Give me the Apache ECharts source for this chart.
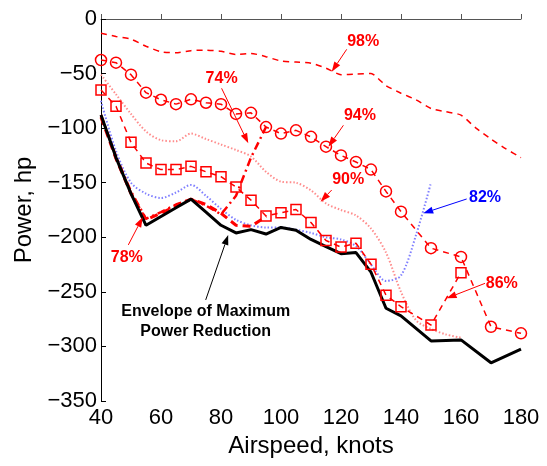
<!DOCTYPE html>
<html><head><meta charset="utf-8">
<script src="https://cdn.jsdelivr.net/npm/echarts@6/dist/echarts.min.js"></script>
<style>html,body{margin:0;padding:0;background:#fff}#c{width:547px;height:466px}</style>
</head><body><div id="c"></div>
<script>
// ---- data (airspeed in knots, power in hp) ----
const speeds98 = [40,45,50,55,60,65,70,75,80,85,90,95,100,105,110,115,120,125,130,135,140,145,150,155,160,165,170,175,180];
const power98  = [-13,-16,-18.5,-25,-30,-31,-29,-28.5,-29.5,-32.5,-31.5,-34.5,-38.5,-39.5,-40.5,-45,-51,-50.5,-50,-61,-68,-74,-82,-85,-88,-100,-110,-119,-127];

const speeds94 = [40,45,50,55,60,65,70,75,80,85,90,95,100,105,110,115,120,125,130,135,140,150,160,170,180];
const power94  = [-37.6,-40,-51,-67.5,-74,-78,-73.6,-76.7,-78,-87,-86,-99,-105,-102,-108,-117,-125,-131,-138,-158,-176.5,-210,-218,-282,-288];

const speeds90 = [40,45,50,55,60,65,70,75,80,85,90,95,100,105,110,115,120,125,130,135,140,145,150,155,160];
const power90  = [-51,-69,-87,-103,-111,-112,-105,-110,-115,-120,-126,-140,-149,-150,-157,-169,-175,-180,-192,-214,-250,-276,-284,-289,-292];

const speeds86 = [40,45,50,55,60,65,70,75,80,85,90,95,100,105,110,115,120,125,130,135,140,150,160];
const power86  = [-65,-80,-113,-132,-138,-138,-135,-140,-144.5,-154,-166,-180.5,-177.5,-174.5,-186.5,-203,-209,-205.5,-224.7,-253,-263.6,-280.4,-232.4];

const speeds82 = [40,45,50,55,60,65,70,75,80,85,90,95,100,105,110,115,120,125,130,135,140,145,150];
const power82  = [-75,-121,-150,-160,-164,-159,-152,-162,-174,-184,-189,-191,-191,-193,-196,-200,-202,-208,-225,-240,-235,-198,-150];

const speeds78 = [40,45,50,55,60,65,70,75,80,85,90,95];
const power78  = [-90,-128,-160,-184,-178,-171,-165,-170,-178,-189,-190,-181];

const speeds74 = [40,45,50,55,60,65,70,75,80,85,90,95];
const power74  = [-88,-126,-158,-183,-177,-170,-165,-171,-179,-162,-127,-99];

const speedsEnv = [40,45,50,55,60,65,70,75,80,85,90,95,100,105,110,115,120,125,130,135,140,150,160,170,180];
const powerEnv  = [-88,-127,-160,-189,-181,-173,-165,-177,-189,-196,-193,-197,-191,-193.5,-202,-208.5,-215,-214,-232,-265,-272,-295,-294,-315,-302.5];

const xTicks = [40,60,80,100,120,140,160,180];
const yTicks = [0,-50,-100,-150,-200,-250,-300,-350];

// annotations: [text, color, labelPos, arrowStart, arrowTip] in data coordinates
const annotations = [
  ['98%', '#ff0000', [127.4,-20.8], [121.9,-27.8], [116.9,-48.3]],
  ['94%', '#ff0000', [126.3,-88.9], [120.8,-97.4], [115.8,-117]],
  ['74%', '#ff0000', [80.2,-55],    [80.2,-63.5],  [89.1,-113.9]],
  ['90%', '#ff0000', [122.4,-147.5],[116.9,-156.7],[113.2,-167.4]],
  ['82%', '#0000ff', [168,-163.4],  [161.9,-164.9],[147.4,-178]],
  ['86%', '#ff0000', [173.6,-242.8],[168,-242.2],  [155.2,-255.9]],
  ['78%', '#ff0000', [48.6,-218.3], [49.1,-207],   [53.9,-181.7]],
  ['Envelope of Maximum\nPower Reduction', '#000000', [74.9,-277.3], [74.9,-257.4], [82.4,-197.9]]
];

const zip = (xs, ys) => xs.map((x, i) => [x, ys[i]]);
const RED = '#ff0000';
const FONT = '"Liberation Sans", Arial, Helvetica, sans-serif';

function lineSeries(name, xs, ys, color, width, type, extra) {
  return Object.assign({
    name, type: 'line', data: zip(xs, ys), showSymbol: false, symbol: 'none',
    lineStyle: { color, width, type }, itemStyle: { color },
    emphasis: { disabled: true }, animation: false
  }, extra || {});
}
function markerSeries(name, xs, ys, symbol, size) {
  return {
    name, type: 'line', data: zip(xs, ys), showSymbol: true, symbol, symbolSize: size,
    lineStyle: { color: RED, width: 1.5, type: [6, 5] },
    itemStyle: { color: 'rgba(255,255,255,0)', borderColor: RED, borderWidth: 1.5 },
    emphasis: { disabled: true }, animation: false, z: 5
  };
}

const chart = echarts.init(document.getElementById('c'), null, { renderer: 'canvas' });
chart.setOption({
  animation: false,
  backgroundColor: '#ffffff',
  grid: { left: 101, right: 26, top: 19, bottom: 65, containLabel: false },
  xAxis: {
    type: 'value', min: 40, max: 180, interval: 20,
    name: 'Airspeed, knots', nameLocation: 'middle', nameGap: 28,
    nameTextStyle: { fontSize: 24, color: '#000', fontFamily: FONT },
    axisLine: { show: true, lineStyle: { color: '#555', width: 1 } },
    axisTick: { show: true, inside: true, length: 5, lineStyle: { color: '#555' } },
    axisLabel: { fontSize: 22, color: '#000', fontFamily: FONT, margin: 6,
      formatter: v => xTicks.includes(v) ? String(v) : '' },
    splitLine: { show: false }
  },
  yAxis: {
    type: 'value', min: -350, max: 0, interval: 50,
    name: 'Power, hp', nameLocation: 'middle', nameGap: 62,
    nameTextStyle: { fontSize: 24, color: '#000', fontFamily: FONT },
    axisLine: { show: true, lineStyle: { color: '#000', width: 1 } },
    axisTick: { show: true, inside: true, length: 5, lineStyle: { color: '#000' } },
    axisLabel: { fontSize: 22, color: '#000', fontFamily: FONT, margin: 4,
      formatter: v => yTicks.includes(v) ? String(v).replace('-', '\u2212') : '' },
    splitLine: { show: false }
  },
  series: [
    lineSeries('90%', speeds90, power90, '#ff8c8c', 2, [1.5, 2], { smooth: 0.3 }),
    lineSeries('82%', speeds82, power82, '#7f7fff', 2, [1.5, 2], { smooth: 0.3 }),
    lineSeries('78%', speeds78, power78, RED, 3, [8, 5]),
    lineSeries('74%', speeds74, power74, RED, 2.5, [8, 4, 2, 4]),
    lineSeries('Envelope', speedsEnv, powerEnv, '#000000', 3, 'solid'),
    lineSeries('98%', speeds98, power98, RED, 1.5, [6, 5], { smooth: 0.2 }),
    markerSeries('86%', speeds86, power86, 'rect', 10),
    markerSeries('94%', speeds94, power94, 'circle', 11)
  ]
});

// annotation arrows and labels, placed through the chart's own coordinate system
const g = [];
annotations.forEach(([text, color, lab, from, tip]) => {
  const p = chart.convertToPixel({ gridIndex: 0 }, lab);
  const a = chart.convertToPixel({ gridIndex: 0 }, from);
  const b = chart.convertToPixel({ gridIndex: 0 }, tip);
  const dx = b[0] - a[0], dy = b[1] - a[1];
  const L = Math.hypot(dx, dy), ux = dx / L, uy = dy / L;
  const hl = 10, hw = 3.5;
  const bx = b[0] - ux * hl, by = b[1] - uy * hl;
  g.push({ type: 'line', shape: { x1: a[0], y1: a[1], x2: bx, y2: by },
           style: { stroke: color, lineWidth: 1 }, z: 100 });
  g.push({ type: 'polygon', shape: { points: [[b[0], b[1]], [bx - uy * hw, by + ux * hw], [bx + uy * hw, by - ux * hw]] },
           style: { fill: color }, z: 100 });
  g.push({ type: 'text', x: p[0], y: p[1], z: 101,
           style: { text, fill: color, font: 'bold 16px ' + FONT, align: 'center', verticalAlign: 'middle', lineHeight: 20 } });
});
chart.setOption({ graphic: g });
</script>
</body></html>
